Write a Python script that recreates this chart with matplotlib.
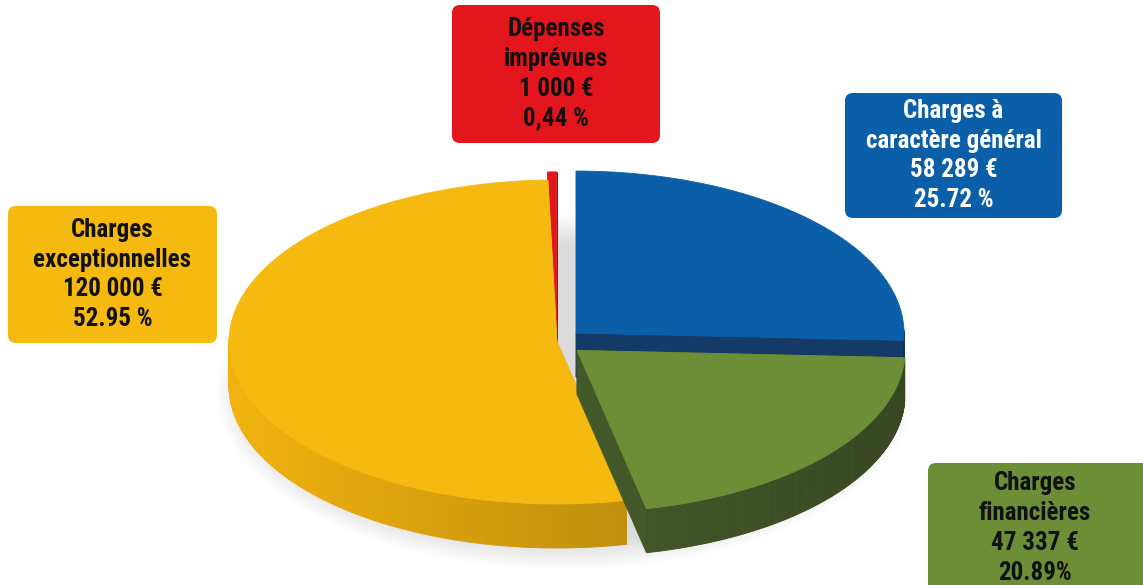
import numpy as np
import matplotlib.pyplot as plt
from matplotlib.patches import Polygon, FancyBboxPatch, Ellipse
from matplotlib.colors import to_rgb

plt.rcParams['font.family'] = ['Roboto Condensed', 'IBM Plex Sans Condensed',
                               'DejaVu Sans']

# Data (order of drawing: clockwise from 12 o'clock)
categories = ['Charges à\ncaractère général', 'Charges\nfinancières',
              'Charges\nexceptionnelles', 'Dépenses\nimprévues']
amounts = [58289, 47337, 120000, 1000]
amount_labels = ['58 289 €', '47 337 €', '120 000 €', '1 000 €']
pct_labels = ['25.72 %', '20.89%', '52.95 %', '0,44 %']

top_colors = ['#0b5fa9', '#6c8e36', '#f5b90f', '#e3161d']
wall_colors = ['#143a68', '#44592a', '#c9950c', '#8e0d12']
text_colors = ['white', '#111111', '#111111', '#111111']
explode = [0.08, 0.08, 0.0, 0.05]

# pie geometry in pixel units
cx, cy = 557, 342
a, b, h = 328, 162, 44

# label boxes: (x0, y0, x1, y1)
boxes = [(845, 93, 1062, 218), (928, 463, 1160, 600),
         (8, 206, 217, 343), (452, 5, 660, 143)]

fig = plt.figure(figsize=(11.43, 5.85), dpi=100)
ax = fig.add_axes([0, 0, 1, 1])
ax.set_xlim(0, 1143)
ax.set_ylim(585, 0)
ax.axis('off')

# soft shadow under the pie
for k in range(12):
    ax.add_patch(Ellipse((cx + 8, cy + h + 6), 2 * a + 40 - 6 * k,
                         2 * b + 30 - 5 * k, color='#000000', alpha=0.012,
                         lw=0, zorder=0))


def pt(theta, dx, dy, r=1.0, down=0.0):
    return (cx + dx + r * a * np.cos(theta), cy + dy - r * b * np.sin(theta) + down)


def shade(col, f):
    c = np.array(to_rgb(col))
    return tuple(np.clip(c * f, 0, 1))


total = sum(amounts)
fracs = [v / total for v in amounts]
start = np.pi / 2
slices = []
for i, f in enumerate(fracs):
    t0 = start
    t1 = start - f * 2 * np.pi
    start = t1
    mid = (t0 + t1) / 2
    dx = explode[i] * a * np.cos(mid)
    dy = -explode[i] * b * np.sin(mid)
    slices.append((i, t1, t0, mid, dx, dy))

# back slices first
slices.sort(key=lambda s: s[5])

for i, t1, t0, mid, dx, dy in slices:
    z = 2 + dy * 0.01
    ts = np.linspace(t1, t0, 200)
    parts = []
    # radial walls
    for t in (t0, t1):
        quad = [pt(0, dx, dy, r=0), pt(t, dx, dy), pt(t, dx, dy, down=h),
                pt(0, dx, dy, r=0, down=h)]
        depth = np.mean([q[1] for q in quad])
        parts.append((depth, quad, wall_colors[i]))
    # outer wall segments (front half only)
    for k in range(len(ts) - 1):
        ta, tb = ts[k], ts[k + 1]
        if np.sin((ta + tb) / 2) > 0.02:
            continue
        quad = [pt(ta, dx, dy), pt(tb, dx, dy), pt(tb, dx, dy, down=h),
                pt(ta, dx, dy, down=h)]
        light = 1.0 + 0.2 * np.cos((ta + tb) / 2 - np.pi)
        col = shade(wall_colors[i], light)
        parts.append((1e4, quad, col))
    parts.sort(key=lambda p: p[0])
    for _, quad, col in parts:
        ax.add_patch(Polygon(quad, closed=True, fc=col, ec=col, lw=0.6,
                             zorder=z))
    top = [pt(0, dx, dy, r=0)] + [pt(t, dx, dy) for t in ts]
    ax.add_patch(Polygon(top, closed=True, fc=top_colors[i],
                         ec=top_colors[i], lw=0.6, zorder=z + 0.001))

# label boxes
for i in range(len(categories)):
    x0, y0, x1, y1 = boxes[i]
    ax.add_patch(FancyBboxPatch((x0 + 8, y0 + 8), x1 - x0 - 16, y1 - y0 - 16,
                                boxstyle='round,pad=8', fc=top_colors[i],
                                ec='none', zorder=5, clip_on=False))
    txt = f'{categories[i]}\n{amount_labels[i]}\n{pct_labels[i]}'
    tx = (x0 + min(x1, 1143)) / 2 if i != 1 else 1035
    ty = (y0 + y1) / 2 if i != 1 else 528
    ax.text(tx, ty, txt, ha='center', va='center', fontsize=18,
            fontweight='bold', color=text_colors[i], linespacing=1.3,
            zorder=6)

fig.savefig('out.png', dpi=100, facecolor='white')
